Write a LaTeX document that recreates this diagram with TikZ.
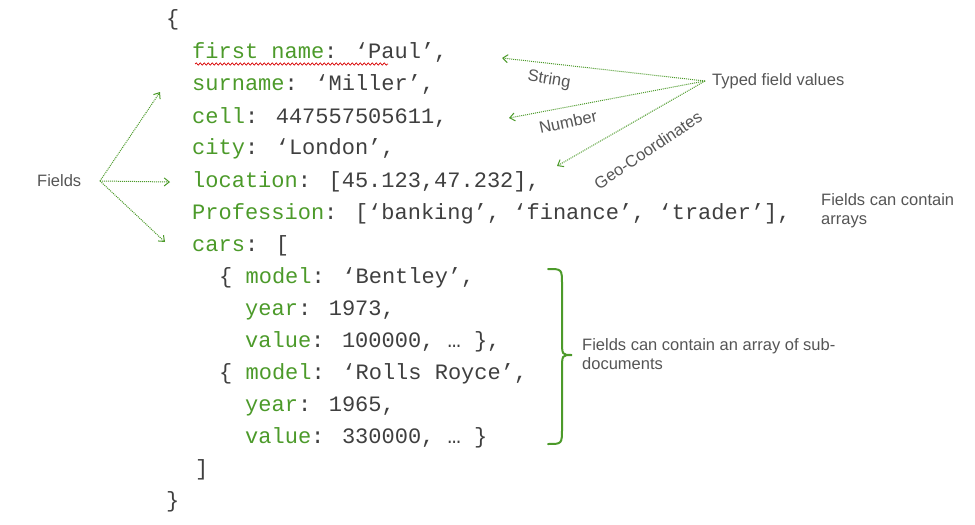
\documentclass[tikz,border=0pt]{standalone}
\usepackage{fontspec}
\setmainfont{Liberation Sans}
\newfontfamily\codefont{Liberation Mono}
\usetikzlibrary{decorations.pathmorphing,arrows.meta}
\definecolor{fg}{HTML}{4C9A2A}
\definecolor{tx}{HTML}{3F3F3F}
\definecolor{lb}{HTML}{555555}
\begin{document}
\begin{tikzpicture}[x=1pt,y=-1pt,
  code/.style={anchor=west,inner sep=0pt,font=\codefont\fontsize{22}{22}\selectfont,text=tx},
  lbl/.style={inner sep=0pt,font=\fontsize{16.5}{19.5}\selectfont,text=lb},
  arr/.style={fg,densely dotted,line width=1pt,-{Straight Barb[length=5pt,width=8pt]}}]
\path[use as bounding box] (0,0) rectangle (975,525);
\newcommand\f[1]{\textcolor{fg}{#1}}
\node[code] (l0) at (166,20) {\{};
\node[code] (l1) at (192,52) {\f{first name}: ‘Paul’,};
\node[code] (l2) at (192,84) {\f{surname}: ‘Miller’,};
\node[code] (l3) at (192,117) {\f{cell}: 447557505611,};
\node[code] (l4) at (192,149) {\f{city}: ‘London’,};
\node[code] (l5) at (192,182) {\f{location}: [45.123,47.232],};
\node[code] (l6) at (192,214) {\f{Profession}: [‘banking’, ‘finance’, ‘trader’],};
\node[code] (l7) at (192,246) {\f{cars}: [};
\node[code] (l8) at (219,278) {\{ \f{model}: ‘Bentley’,};
\node[code] (l9) at (245,310) {\f{year}: 1973,};
\node[code] (l10) at (245,342) {\f{value}: 100000, … \},};
\node[code] (l11) at (219,374) {\{ \f{model}: ‘Rolls Royce’,};
\node[code] (l12) at (245,406) {\f{year}: 1965,};
\node[code] (l13) at (245,438) {\f{value}: 330000, … \}};
\node[code] (l14) at (195,470) {]};
\node[code] (l15) at (166,502) {\}};
\coordinate (sq1) at (195,64); \coordinate (sq2) at (388,64);
\draw[red!85!black,line width=0.7pt,decorate,decoration={snake,amplitude=1.2pt,segment length=4pt}] (sq1) -- (sq2);
% Fields
\node[lbl,anchor=west] (fields) at (37,181) {Fields};
\coordinate (fo) at (100,181);
\coordinate (fa1) at (160,92); \coordinate (fa2) at (170,182); \coordinate (fa3) at (165,242);
\draw[arr] (fo) -- (fa1);
\draw[arr] (fo) -- (fa2);
\draw[arr] (fo) -- (fa3);
% Typed
\node[lbl,anchor=west] (typed) at (712,81) {Typed field values};
\coordinate (to) at (705,81);
\coordinate (ta1) at (502,58); \coordinate (ta2) at (509,118); \coordinate (ta3) at (557,166);
\draw[arr] (to) -- (ta1);
\draw[arr] (to) -- (ta2);
\draw[arr] (to) -- (ta3);
\node[lbl,rotate=-9] (str) at (549,80) {String};
\node[lbl,rotate=12] (num) at (568,122) {Number};
\node[lbl,rotate=34] (geo) at (648,150) {Geo-Coordinates};
\node[lbl,anchor=north west,align=left] (arrs) at (821,193) {Fields can contain\\arrays};
% brace
\draw[fg,line width=2pt,line cap=round] (548,269) .. controls (562,269) .. (562,285) -- (562,340) .. controls (562,355) .. (572,355) .. controls (562,355) .. (562,370) -- (562,428) .. controls (562,444) .. (548,444);
\node[lbl,anchor=north west,align=left] (subd) at (582,338) {Fields can contain an array of sub-\\documents};
\end{tikzpicture}
\end{document}
